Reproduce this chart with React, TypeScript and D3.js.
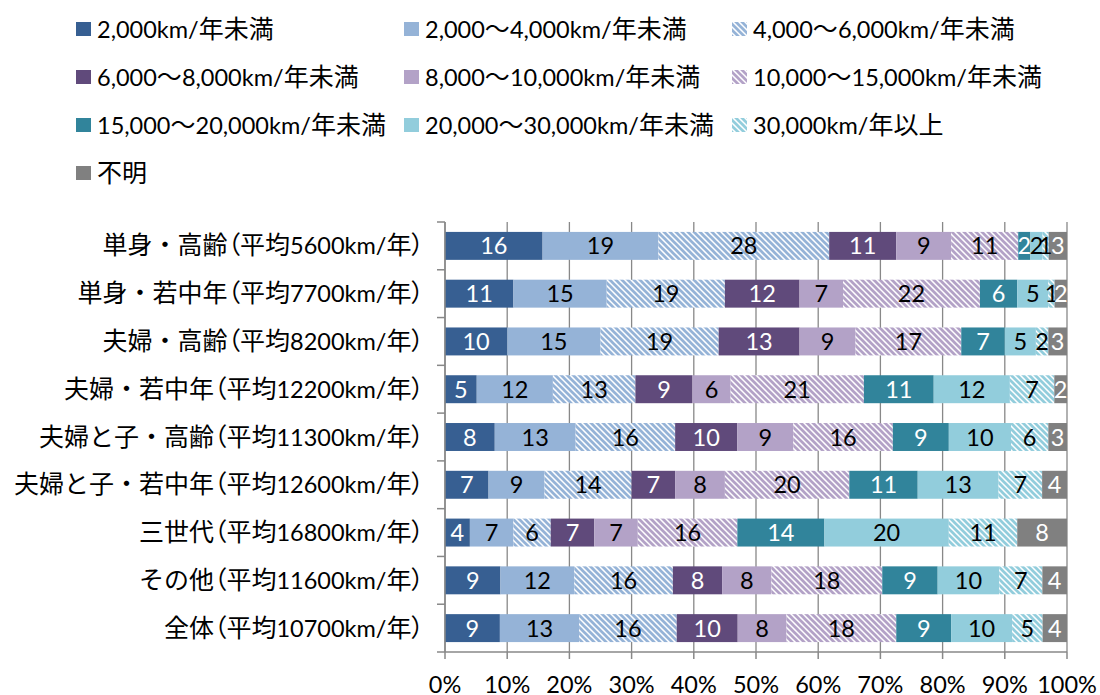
import React from "react";
import * as d3 from "d3";

const categories = [
  "単身・高齢（平均5600km/年）",
  "単身・若中年（平均7700km/年）",
  "夫婦・高齢（平均8200km/年）",
  "夫婦・若中年（平均12200km/年）",
  "夫婦と子・高齢（平均11300km/年）",
  "夫婦と子・若中年（平均12600km/年）",
  "三世代（平均16800km/年）",
  "その他（平均11600km/年）",
  "全体（平均10700km/年）",
];

const seriesNames = [
  "2,000km/年未満",
  "2,000～4,000km/年未満",
  "4,000～6,000km/年未満",
  "6,000～8,000km/年未満",
  "8,000～10,000km/年未満",
  "10,000～15,000km/年未満",
  "15,000～20,000km/年未満",
  "20,000～30,000km/年未満",
  "30,000km/年以上",
  "不明",
];

// values per category, in series order
const v_tanshinKorei = [16, 19, 28, 11, 9, 11, 2, 2, 1, 3];
const v_tanshinJakuchu = [11, 15, 19, 12, 7, 22, 6, 5, 1, 2];
const v_fufuKorei = [10, 15, 19, 13, 9, 17, 7, 5, 2, 3];
const v_fufuJakuchu = [5, 12, 13, 9, 6, 21, 11, 12, 7, 2];
const v_fufukoKorei = [8, 13, 16, 10, 9, 16, 9, 10, 6, 3];
const v_fufukoJakuchu = [7, 9, 14, 7, 8, 20, 11, 13, 7, 4];
const v_sansedai = [4, 7, 6, 7, 7, 16, 14, 20, 11, 8];
const v_sonota = [9, 12, 16, 8, 8, 18, 9, 10, 7, 4];
const v_zentai = [9, 13, 16, 10, 8, 18, 9, 10, 5, 4];

const values = [
  v_tanshinKorei,
  v_tanshinJakuchu,
  v_fufuKorei,
  v_fufuJakuchu,
  v_fufukoKorei,
  v_fufukoJakuchu,
  v_sansedai,
  v_sonota,
  v_zentai,
];

const xTicks = [0, 0.1, 0.2, 0.3, 0.4, 0.5, 0.6, 0.7, 0.8, 0.9, 1.0];

const baseColors = [
  "#375f92",
  "#95b3d7",
  "#95b3d7",
  "#604a7b",
  "#b3a2c7",
  "#b3a2c7",
  "#31849b",
  "#92cddc",
  "#92cddc",
  "#808080",
];
const hatched = [false, false, true, false, false, true, false, false, true, false];
const whiteText = [true, false, false, true, false, false, true, false, false, true];

const LATIN = "Lato, 'Noto Sans CJK JP', sans-serif";
const CJK = "'Noto Sans CJK JP', sans-serif";
const FS = 23.5;
const FS_CJK = 25;

function MixedText(props: { s: string }) {
  const runs = props.s.match(/[\u0000-\u024F]+|[（）]+|[^\u0000-\u024F（）]+/g) || [];
  return (
    <>
      {runs.map((r, i) => {
        const isLatin = /^[\u0000-\u024F]+$/.test(r);
        const isParen = /^[（）]+$/.test(r);
        return (
          <tspan
            key={i}
            fontFamily={isLatin ? LATIN : CJK}
            fontSize={isLatin ? FS : FS_CJK}
            style={isParen ? { fontFeatureSettings: '"palt"' } : undefined}
          >
            {r}
          </tspan>
        );
      })}
    </>
  );
}

export default function App() {
  const W = 1100;
  const H = 695;
  const x0 = 445;
  const x1 = 1067;
  const yTop = 222;
  const yBot = 652;

  const x = d3.scaleLinear().domain([0, 1]).range([x0, x1]);
  const y = d3
    .scaleBand<string>()
    .domain(categories)
    .range([yTop, yBot])
    .paddingInner(0.415)
    .paddingOuter(0.2075);

  const fillFor = (i: number) => (hatched[i] ? `url(#hatch${i})` : baseColors[i]);

  const legendCols = [76, 404, 732];
  const legendRows = [29, 77, 125, 173];

  const bandStep = y.step();
  const P = 6;
  const DY = 8.5;

  return (
    <svg width={W} height={H} style={{ display: "block", position: "absolute", left: 0, top: 0 }} fontFamily={LATIN}>
      <defs>
        {baseColors.map((c, i) =>
          hatched[i] ? (
            <pattern key={i} id={`hatch${i}`} patternUnits="userSpaceOnUse" width={P} height={P}>
              <rect width={P} height={P} fill="#ffffff" />
              <path
                d={`M-1,-1 L${P + 1},${P + 1} M${-P - 1},-1 L1,${P + 1} M${P - 1},-1 L${2 * P + 1},${P + 1}`}
                stroke={c}
                strokeWidth={2.7}
              />
            </pattern>
          ) : null
        )}
      </defs>
      <rect width={W} height={H} fill="#ffffff" />

      {/* Legend */}
      {seriesNames.map((name, i) => {
        const col = i % 3;
        const row = Math.floor(i / 3);
        const lx = legendCols[col];
        const ly = legendRows[row];
        return (
          <g key={name}>
            <rect x={lx} y={ly - 7} width={15} height={14} fill={fillFor(i)} />
            <text x={lx + 21} y={ly + DY} fontSize={FS} fill="#000">
              <MixedText s={name} />
            </text>
          </g>
        );
      })}

      {/* Gridlines */}
      {xTicks.map((t) => (
        <line key={t} x1={x(t)} x2={x(t)} y1={yTop} y2={yBot} stroke="#888888" strokeWidth={1.3} />
      ))}

      {/* Bars */}
      {categories.map((cat, ci) => {
        const vals = values[ci];
        const total = d3.sum(vals);
        const stack = d3.cumsum(vals);
        const by = y(cat) as number;
        const bh = y.bandwidth();
        return (
          <g key={cat}>
            {vals.map((v, si) => {
              const start = (stack[si] - v) / total;
              const end = stack[si] / total;
              const xa = x(start);
              const xb = x(end);
              return <rect key={si} x={xa} y={by} width={xb - xa} height={bh} fill={fillFor(si)} />;
            })}
            {vals.map((v, si) => {
              const start = (stack[si] - v) / total;
              const end = stack[si] / total;
              const cx = (x(start) + x(end)) / 2;
              return (
                <text
                  key={"t" + si}
                  x={cx}
                  y={by + bh / 2 + DY}
                  textAnchor="middle"
                  fontSize={FS}
                  fill={whiteText[si] ? "#ffffff" : "#000000"}
                >
                  {v}
                </text>
              );
            })}
          </g>
        );
      })}

      {/* Y axis */}
      <line x1={x0} x2={x0} y1={yTop} y2={yBot} stroke="#888888" strokeWidth={1.5} />
      {d3.range(categories.length + 1).map((k) => {
        const yy = yTop + k * bandStep;
        return <line key={k} x1={x0 - 8} x2={x0} y1={yy} y2={yy} stroke="#888888" strokeWidth={1.5} />;
      })}
      {categories.map((cat) => (
        <text
          key={cat}
          x={424}
          y={(y(cat) as number) + y.bandwidth() / 2 + DY}
          textAnchor="end"
          fontSize={FS}
          fill="#000"
        >
          <MixedText s={cat} />
        </text>
      ))}

      {/* X axis */}
      <line x1={x0} x2={x1} y1={yBot} y2={yBot} stroke="#888888" strokeWidth={1.5} />
      {xTicks.map((t) => (
        <line key={"xt" + t} x1={x(t)} x2={x(t)} y1={yBot} y2={yBot + 7} stroke="#888888" strokeWidth={1.5} />
      ))}
      {xTicks.map((t) => (
        <text key={"xl" + t} x={x(t)} y={684 + DY} textAnchor="middle" fontSize={FS} fill="#000">
          {d3.format(".0%")(t)}
        </text>
      ))}
    </svg>
  );
}
